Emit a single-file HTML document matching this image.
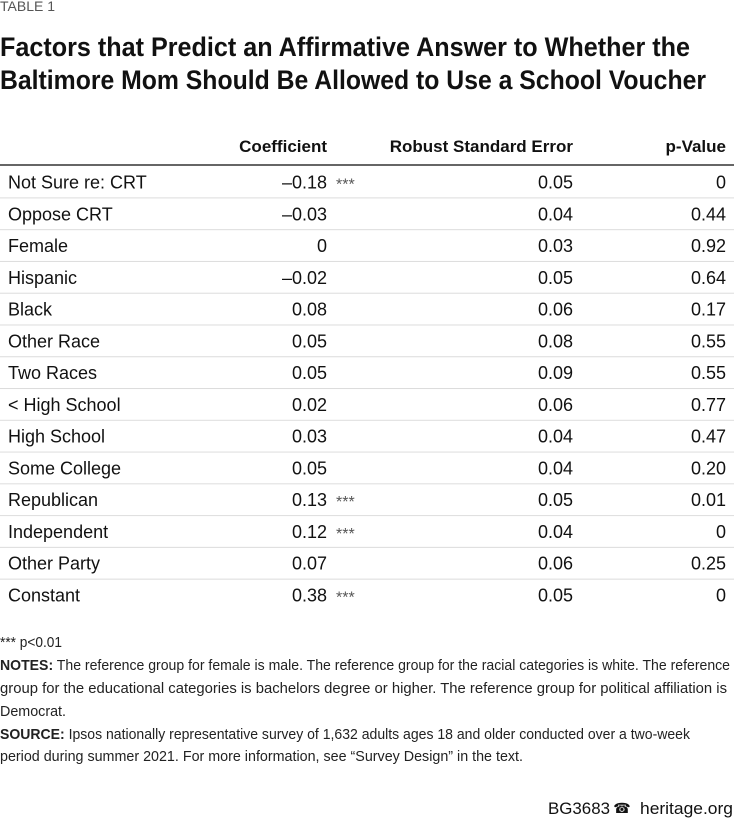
<!DOCTYPE html>
<html><head><meta charset="utf-8"><style>
html,body{margin:0;padding:0;background:#fff;}
svg{display:block;font-family:"Liberation Sans",sans-serif;}
</style></head><body>
<svg width="734" height="819" viewBox="0 0 734 819">
<text x="0" y="11" font-size="14" fill="#555">TABLE 1</text>
<text x="0" y="56" font-size="27" font-weight="bold" fill="#111" textLength="690" lengthAdjust="spacingAndGlyphs">Factors that Predict an Affirmative Answer to Whether the</text>
<text x="0" y="89" font-size="27" font-weight="bold" fill="#111" textLength="706" lengthAdjust="spacingAndGlyphs">Baltimore Mom Should Be Allowed to Use a School Voucher</text>
<g font-size="17" font-weight="bold" fill="#111">
<text x="327" y="152" text-anchor="end">Coefficient</text>
<text x="573" y="152" text-anchor="end">Robust Standard Error</text>
<text x="726" y="152" text-anchor="end">p-Value</text>
</g>
<rect x="0" y="164" width="734" height="2" fill="#666"/>
<g id="rows"></g>
<g font-size="15" fill="#222">
<text x="0" y="647" textLength="62" lengthAdjust="spacingAndGlyphs">*** p&lt;0.01</text>
<text x="0" y="670" textLength="730" lengthAdjust="spacingAndGlyphs"><tspan font-weight="bold">NOTES:</tspan> The reference group for female is male. The reference group for the racial categories is white. The reference</text>
<text x="0" y="693" textLength="727" lengthAdjust="spacingAndGlyphs">group for the educational categories is bachelors degree or higher. The reference group for political affiliation is</text>
<text x="0" y="716" textLength="66" lengthAdjust="spacingAndGlyphs">Democrat.</text>
<text x="0" y="739" textLength="690" lengthAdjust="spacingAndGlyphs"><tspan font-weight="bold">SOURCE:</tspan> Ipsos nationally representative survey of 1,632 adults ages 18 and older conducted over a two-week</text>
<text x="0" y="761" textLength="523" lengthAdjust="spacingAndGlyphs">period during summer 2021. For more information, see “Survey Design” in the text.</text>
</g>
<g font-size="17" fill="#111">
<text x="548" y="814" textLength="62" lengthAdjust="spacingAndGlyphs">BG3683</text>
<text x="622" y="813" font-size="14" text-anchor="middle">☎</text>
<text x="733" y="814" text-anchor="end" textLength="93" lengthAdjust="spacingAndGlyphs">heritage.org</text>
</g>
</svg>
<script>
const labels=["Not Sure re: CRT","Oppose CRT","Female","Hispanic","Black","Other Race","Two Races","< High School","High School","Some College","Republican","Independent","Other Party","Constant"];
const coefs=["–0.18","–0.03","0","–0.02","0.08","0.05","0.05","0.02","0.03","0.05","0.13","0.12","0.07","0.38"];
const stars=["***","","","","","","","","","","***","***","","***"];
const ses=["0.05","0.04","0.03","0.05","0.06","0.08","0.09","0.06","0.04","0.04","0.05","0.04","0.06","0.05"];
const pvals=["0","0.44","0.92","0.64","0.17","0.55","0.55","0.77","0.47","0.20","0.01","0","0.25","0"];
const NS="http://www.w3.org/2000/svg";
const g=document.getElementById('rows');
function rowY(i){return 182+i*31.77;}
function t(x,y,s,anchor,size,fill){const e=document.createElementNS(NS,'text');e.setAttribute('x',x);e.setAttribute('y',y);e.setAttribute('font-size',size);e.setAttribute('fill',fill);if(anchor)e.setAttribute('text-anchor',anchor);e.textContent=s;return e;}
labels.forEach((lab,i)=>{
  const y=rowY(i), by=y+6.5;
  const row=document.createElementNS(NS,'g');
  
  
  const a=t(8,by,lab,null,18,'#111');
  
  
  row.appendChild(a);
  const b=t(327,by,coefs[i],'end',18,'#111');
  
  
  row.appendChild(b);
  if(stars[i]){const s=t(336,by+1,stars[i],null,16,'#555');
    
    
    row.appendChild(s);}
  const c=t(573,by,ses[i],'end',18,'#111');
  
  
  row.appendChild(c);
  const d=t(726,by,pvals[i],'end',18,'#111');
  
  
  row.appendChild(d);
  if(i<labels.length-1){const r=document.createElementNS(NS,'rect');r.setAttribute('x',0);r.setAttribute('y',y+15.4);r.setAttribute('width',734);r.setAttribute('height',1);r.setAttribute('fill','#dcdcdc');
    
    
    row.appendChild(r);}
  g.appendChild(row);
});
</script>
</body></html>
